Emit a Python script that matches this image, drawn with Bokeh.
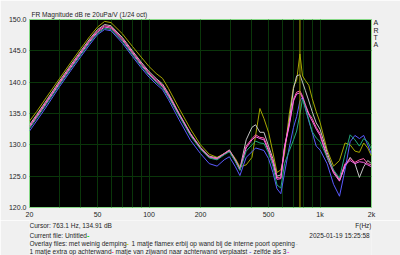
from bokeh.plotting import figure
from bokeh.layouts import column
from bokeh.models import Range1d, FixedTicker, Span, PrintfTickFormatter, LinearAxis
from bokeh.core.properties import value
from bokeh.embed import file_html
from bokeh.resources import INLINE

# ---------------- data ----------------
freqs = [20, 22, 25, 30, 35, 40, 45, 50, 55, 60,
         70, 80, 90, 100, 110, 120, 130, 150, 175, 200,
         225, 250, 275, 295, 320, 340, 370, 400, 420, 445,
         470, 500, 530, 560, 590, 620, 660, 700, 730, 763,
         790, 820, 860, 900, 950, 1000, 1100, 1200, 1300, 1400,
         1500, 1600, 1700, 1800, 1900, 2000]

met_weinig_demping = [133.8, 135.3, 137.5, 140.6, 143.2, 145.4, 147.3, 148.8, 149.7, 149.5,
                      147.7, 145.7, 144.0, 142.5, 141.4, 140.6, 139.0, 135.8, 132.5, 130.0,
                      128.5, 128.0, 128.6, 129.1, 127.8, 126.5, 126.8, 128.0, 131.5, 135.8,
                      134.2, 132.0, 128.8, 125.6, 126.0, 128.5, 134.8, 139.3, 140.3, 144.5,
                      141.0, 140.3, 139.5, 137.4, 135.3, 133.6, 129.2, 126.6, 127.5, 130.3,
                      130.0, 129.0, 128.8, 130.3, 129.5, 128.2]

flamex_interne_poort = [133.2, 134.8, 137.0, 140.2, 142.8, 145.0, 146.9, 148.4, 149.2, 149.0,
                        147.1, 145.0, 143.2, 141.7, 140.6, 139.7, 138.2, 135.0, 131.8, 129.6,
                        128.2, 127.9, 128.6, 129.2, 127.6, 126.2, 130.8, 132.8, 133.2, 132.0,
                        132.0, 129.8, 127.8, 125.0, 125.2, 129.5, 133.6, 139.0, 141.0, 141.2,
                        140.0, 138.7, 137.0, 135.3, 133.5, 132.5, 128.8, 125.8, 124.3, 126.5,
                        128.0, 127.0, 124.8, 126.5, 127.5, 127.0]

extra_achterwand = [133.0, 134.6, 136.8, 140.0, 142.6, 144.8, 146.7, 148.2, 149.0, 148.8,
                    146.9, 144.8, 143.0, 141.5, 140.4, 139.5, 138.0, 134.9, 131.7, 129.5,
                    128.1, 127.8, 128.6, 129.1, 127.5, 126.1, 129.8, 131.0, 131.6, 131.2,
                    131.1, 129.3, 127.4, 124.8, 124.7, 129.8, 133.2, 137.3, 138.4, 138.6,
                    137.8, 136.5, 135.0, 134.2, 132.8, 131.8, 128.3, 125.8, 124.5, 127.0,
                    127.8, 127.2, 127.6, 127.8, 127.0, 126.8]

zijwand_verplaatst = [132.2, 133.8, 136.0, 139.3, 141.9, 144.1, 146.0, 147.6, 148.4, 148.2,
                      146.2, 144.1, 142.3, 140.8, 139.7, 138.8, 137.2, 134.0, 130.7, 128.6,
                      127.0, 126.6, 127.6, 128.1, 126.5, 125.1, 128.0, 128.9, 129.5, 129.3,
                      129.1, 127.8, 125.6, 123.0, 122.2, 125.5, 129.5, 132.8, 134.5, 137.0,
                      137.6, 135.8, 133.8, 132.0, 129.8, 129.2, 127.0, 123.7, 121.8, 126.0,
                      130.5, 131.5, 131.0, 131.5, 130.0, 128.5]

zelfde_als_3 = [132.8, 134.4, 136.6, 139.8, 142.4, 144.6, 146.5, 148.0, 148.8, 148.6,
                146.7, 144.6, 142.8, 141.3, 140.2, 139.3, 137.8, 134.8, 131.6, 129.4,
                128.0, 127.7, 128.5, 129.0, 127.4, 126.0, 129.5, 130.8, 131.3, 131.0,
                130.8, 129.0, 127.1, 124.5, 124.6, 129.5, 133.0, 137.0, 138.1, 138.3,
                137.5, 136.2, 134.8, 133.8, 132.5, 131.5, 128.0, 125.5, 124.2, 126.8,
                127.5, 127.0, 127.3, 127.2, 126.8, 126.5]

untitled = [132.6, 134.2, 136.4, 139.6, 142.2, 144.4, 146.3, 147.8, 148.6, 148.4,
            146.5, 144.4, 142.6, 141.1, 140.0, 139.1, 137.6, 134.6, 131.4, 129.3,
            127.9, 127.6, 128.4, 128.9, 127.3, 125.9, 129.0, 130.0, 130.6, 130.3,
            130.2, 128.7, 126.6, 123.6, 123.1, 127.0, 129.0, 130.8, 132.2, 134.9,
            137.3, 136.0, 134.0, 132.1, 131.1, 130.5, 128.0, 126.0, 124.7, 128.5,
            131.6, 130.8, 129.8, 131.0, 130.5, 129.3]

x_tick_vals = [20, 50, 100, 200, 500, 1000, 2000]
x_tick_text = ["20", "50", "100", "200", "500", "1k", "2k"]
x_grid_vals = [20, 30, 40, 50, 60, 70, 80, 90, 100, 200, 300, 400, 500,
               600, 700, 800, 900, 1000, 2000]
y_tick_vals = [120, 125, 130, 135, 140, 145, 150]
cursor_freq = 763.1
title_text = "FR Magnitude dB re 20uPa/V (1/24 oct)"
brand_letters = ["A", "R", "T", "A"]

series = [
    (met_weinig_demping, "#a6a600"),
    (flamex_interne_poort, "#c4c4c4"),
    (extra_achterwand, "#ff5fa8"),
    (zijwand_verplaatst, "#5a5aff"),
    (zelfde_als_3, "#ff66ee"),
    (untitled, "#22a87a"),
]

FONT = "Liberation Sans"
TXT = "#1e1e1e"
BG = "#f0f0f0"

# ---------------- main chart ----------------
p = figure(width=400, height=220, x_axis_type="log",
           x_range=Range1d(20, 2000), y_range=Range1d(120, 150),
           output_backend="svg", toolbar_location=None,
           min_border_left=29, min_border_right=29,
           min_border_top=19, min_border_bottom=12)
p.title.text = title_text
p.title.align = "left"
p.title.offset = 2
p.title.standoff = 3
p.title.text_font = FONT
p.title.text_font_size = "6.6px"
p.title.text_font_style = "normal"
p.title.text_color = TXT
p.background_fill_color = "black"
p.border_fill_color = BG
p.outline_line_color = "#86d886"
p.outline_line_width = 1

p.xaxis.ticker = FixedTicker(ticks=x_tick_vals)
p.xaxis.major_label_overrides = {v: t for v, t in zip(x_tick_vals, x_tick_text)}
p.yaxis.ticker = FixedTicker(ticks=y_tick_vals)
p.yaxis.formatter = PrintfTickFormatter(format="%.1f")

# right-side "ARTA" brand, one letter per row
brand_pos = [149.45, 148.3, 147.15, 146.0]
ra = LinearAxis(ticker=FixedTicker(ticks=brand_pos),
                major_label_overrides={v: t for v, t in zip(brand_pos, brand_letters)})
p.add_layout(ra, "right")

for ax in (p.xaxis[0], p.yaxis[0], ra):
    ax.axis_line_color = None
    ax.major_tick_line_color = None
    ax.minor_tick_line_color = None
    ax.major_tick_out = 0
    ax.major_tick_in = 0
    ax.minor_tick_out = 0
    ax.minor_tick_in = 0
    ax.major_label_text_font = FONT
    ax.major_label_text_font_size = "7px"
    ax.major_label_text_color = TXT
p.xaxis.major_label_standoff = 3
p.yaxis.major_label_standoff = 3
ra.major_label_standoff = 2

p.xgrid.ticker = FixedTicker(ticks=x_grid_vals)
p.ygrid.ticker = FixedTicker(ticks=y_tick_vals)
p.xgrid.grid_line_color = "#0a360a"
p.ygrid.grid_line_color = "#0a360a"

for vals, col in series:
    p.line(freqs, vals, line_color=col, line_width=1)

p.add_layout(Span(location=cursor_freq, dimension="height",
                  line_color="#a6a600", line_width=1))

# ---------------- info text strip ----------------
info = figure(width=400, height=35, x_range=Range1d(29, 371), y_range=Range1d(35, 0),
              output_backend="svg", toolbar_location=None,
              x_axis_location=None, y_axis_location=None,
              min_border_left=29, min_border_right=29,
              min_border_top=0, min_border_bottom=0)
info.background_fill_color = BG
info.border_fill_color = BG
info.outline_line_color = None
info.grid.visible = False

left_x = [29, 29, 29, 131, 29, 115, 253]
left_y = [5, 14.5, 23, 23, 31, 31, 31]
left_t = ["Cursor: 763.1 Hz, 134.91 dB",
          "Current file: Untitled",
          "Overlay files: met weinig demping",
          "1 matje flamex erbij op wand bij de interne poort opening",
          "1 matje extra op achterwand",
          "matje van zijwand naar achterwand verplaatst",
          "zelfde als 3"]
info.text(left_x, left_y, text=left_t, text_font=value(FONT), text_font_size="6.5px",
          text_color=TXT, text_align="left", text_baseline="middle")

right_t = ["F(Hz)", "2025-01-19  15:25:58"]
info.text([371, 371], [5, 14.5], text=right_t, text_font=value(FONT),
          text_font_size="6.5px", text_color=TXT, text_align="right",
          text_baseline="middle")

dash_x = [86.5, 126, 295, 111, 248.5, 286.5]
dash_y = [14.5, 23, 23, 31, 31, 31]
dash_c = ["#00e000", "#d0c800", "#d0d0d0", "#ff4080", "#7070ff", "#ff50ff"]
info.text(dash_x, dash_y, text=["-"] * len(dash_x), text_font=value(FONT),
          text_font_size="7px", text_font_style="bold", text_color=dash_c,
          text_align="left", text_baseline="middle")

layout = column(p, info, spacing=0)
open("out.html", "w").write(file_html(layout, INLINE))
